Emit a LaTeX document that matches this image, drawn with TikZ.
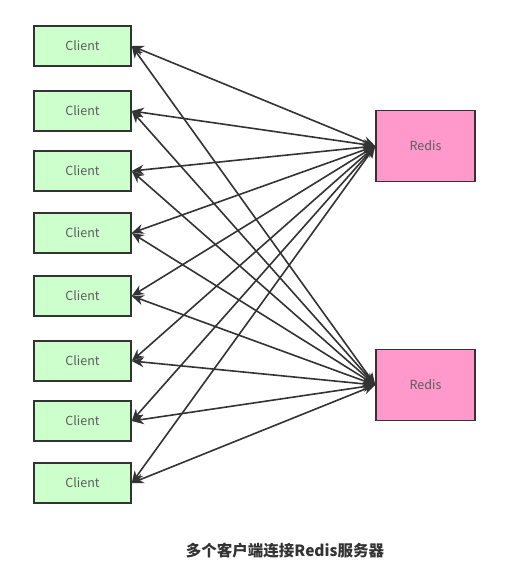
\documentclass[tikz,border=0pt]{standalone}
\usepackage{fontspec}
\setmainfont{Noto Sans CJK SC}
\usetikzlibrary{arrows.meta}
\definecolor{clientfill}{HTML}{CCFFCC}
\definecolor{redisfill}{HTML}{FF99CC}
\definecolor{darkline}{HTML}{333333}
\tikzset{
    client/.style={draw=darkline, fill=clientfill, line width=1.5pt, minimum width=97pt, minimum height=40pt, inner sep=0pt, font=\fontsize{12.5}{14}\selectfont, text=darkline!80},
    redis/.style={draw=darkline, fill=redisfill, line width=1.5pt, minimum width=99pt, minimum height=71pt, inner sep=0pt, font=\fontsize{12.5}{14}\selectfont, text=darkline!80},
    link/.style={draw=darkline, line width=1.6pt, {Stealth[length=12pt,width=10pt]}-{Stealth[length=12pt,width=10pt]}}
}
\begin{document}
\begin{tikzpicture}[x=1pt, y=-1pt]
    \useasboundingbox (0,0) rectangle (504,576);
    % clients
    \foreach \i/\y in {1/46, 2/111, 3/171, 4/233, 5/296, 6/361, 7/421, 8/483}
        \node[client] (c\i) at (82.5,\y) {Client};
    % servers
    \node[redis] (r1) at (425.5,146) {Redis};
    \node[redis] (r2) at (425.5,385) {Redis};
    % connections
    \foreach \i in {1,...,8} {
        \draw[link] (c\i.east) -- (r1.west);
        \draw[link] (c\i.east) -- (r2.west);
    }
    \node[font=\bfseries\fontsize{15.5}{18}\selectfont, text=darkline] (title) at (285,551) {多个客户端连接Redis服务器};
\end{tikzpicture}
\end{document}
